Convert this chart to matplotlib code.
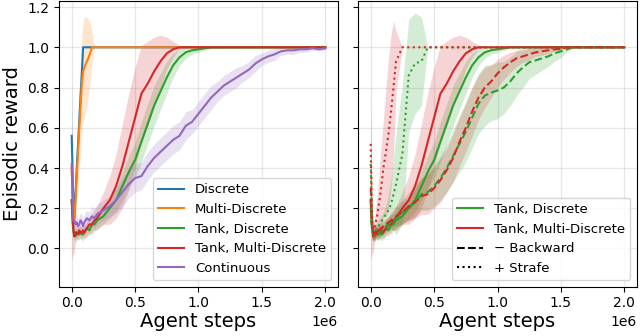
import matplotlib
matplotlib.use("Agg")
import matplotlib.pyplot as plt
from matplotlib.lines import Line2D
import numpy as np

# ---------------- data (x in units of 1e6 agent steps) ----------------
STEPS = [0.00, 0.01, 0.02, 0.03, 0.04, 0.05, 0.06, 0.07, 0.08, 0.09,
         0.10, 0.12, 0.14, 0.16, 0.18, 0.20, 0.25, 0.30, 0.35, 0.40,
         0.45, 0.50, 0.55, 0.60, 0.65, 0.70, 0.75, 0.80, 0.85, 0.90,
         0.95, 1.00, 1.05, 1.10, 1.15, 1.20, 1.25, 1.30, 1.35, 1.40,
         1.45, 1.50, 1.55, 1.60, 1.65, 1.70, 1.75, 1.80, 1.85, 1.90,
         1.95, 2.00]

discrete_mean = [0.56, 0.30, 0.15, 0.27, 0.40, 0.52, 0.64, 0.76, 0.87, 1.00] + [1.00] * 42
discrete_std = [0.30, 0.12, 0.06, 0.06, 0.06, 0.06, 0.05, 0.05, 0.04, 0.00] + [0.00] * 42

multi_mean = [0.40, 0.22, 0.14, 0.24, 0.36, 0.48, 0.60, 0.71, 0.82, 0.88,
              0.90, 0.93, 0.96, 1.00] + [1.00] * 38
multi_std = [0.15, 0.06, 0.05, 0.10, 0.14, 0.18, 0.21, 0.23, 0.24, 0.25,
             0.25, 0.22, 0.17, 0.08] + [0.00] * 38

tank_d_mean = [0.24, 0.10, 0.07, 0.06, 0.07, 0.08, 0.07, 0.08, 0.07, 0.07,
               0.08, 0.10, 0.09, 0.12, 0.12, 0.14, 0.16, 0.20, 0.24, 0.31,
               0.38, 0.44, 0.53, 0.62, 0.71, 0.78, 0.85, 0.91, 0.95, 0.975,
               0.985, 0.99, 0.995] + [1.00] * 19
tank_d_std = [0.15, 0.05, 0.03, 0.03, 0.03, 0.03, 0.03, 0.03, 0.03, 0.03,
              0.03, 0.03, 0.03, 0.03, 0.03, 0.04, 0.04, 0.05, 0.06, 0.07,
              0.08, 0.09, 0.10, 0.10, 0.10, 0.09, 0.08, 0.06, 0.04, 0.03,
              0.02, 0.015, 0.01, 0.005, 0.005] + [0.00] * 17

tank_md_mean = [0.24, 0.12, 0.06, 0.08, 0.08, 0.07, 0.09, 0.08, 0.08, 0.09,
                0.08, 0.10, 0.12, 0.12, 0.14, 0.15, 0.20, 0.24, 0.31, 0.41,
                0.53, 0.65, 0.77, 0.82, 0.88, 0.93, 0.97, 0.99] + [1.00] * 24
tank_md_std = [0.30, 0.15, 0.08, 0.04, 0.03, 0.03, 0.03, 0.03, 0.03, 0.03,
               0.03, 0.04, 0.04, 0.05, 0.05, 0.06, 0.08, 0.12, 0.16, 0.21,
               0.24, 0.25, 0.24, 0.21, 0.17, 0.13, 0.08, 0.04, 0.01] + [0.00] * 23

cont_mean = [0.42, 0.14, 0.14, 0.12, 0.13, 0.11, 0.12, 0.14, 0.13, 0.11,
             0.13, 0.15, 0.14, 0.16, 0.15, 0.17, 0.19, 0.21, 0.24, 0.28,
             0.32, 0.35, 0.36, 0.41, 0.45, 0.48, 0.51, 0.54, 0.56, 0.61,
             0.63, 0.67, 0.71, 0.75, 0.78, 0.81, 0.83, 0.85, 0.87, 0.89,
             0.92, 0.94, 0.955, 0.965, 0.98, 0.985, 0.985, 0.99, 0.99, 0.995,
             0.99, 0.995]
cont_std = [0.10, 0.05, 0.04, 0.04, 0.04, 0.04, 0.04, 0.04, 0.04, 0.04,
            0.04, 0.04, 0.04, 0.05, 0.05, 0.05, 0.05, 0.05, 0.06, 0.07,
            0.07, 0.07, 0.07, 0.07, 0.07, 0.07, 0.07, 0.07, 0.07, 0.07,
            0.06, 0.06, 0.06, 0.06, 0.05, 0.05, 0.05, 0.05, 0.04, 0.04,
            0.04, 0.03, 0.03, 0.03, 0.02, 0.02, 0.02, 0.015, 0.015, 0.01,
            0.01, 0.01]

tank_d_back_mean = [0.20, 0.10, 0.07, 0.07, 0.08, 0.08, 0.07, 0.08, 0.09, 0.09,
                    0.10, 0.11, 0.12, 0.13, 0.13, 0.15, 0.18, 0.20, 0.23, 0.27,
                    0.28, 0.31, 0.35, 0.40, 0.46, 0.52, 0.58, 0.65, 0.72, 0.76,
                    0.775, 0.785, 0.80, 0.83, 0.87, 0.90, 0.925, 0.935, 0.945, 0.955,
                    0.97, 0.98, 0.99] + [1.00] * 9
tank_d_back_std = [0.10, 0.04, 0.03, 0.03, 0.03, 0.03, 0.03, 0.03, 0.03, 0.03,
                   0.03, 0.03, 0.03, 0.04, 0.04, 0.04, 0.05, 0.06, 0.07, 0.08,
                   0.09, 0.10, 0.11, 0.12, 0.13, 0.14, 0.15, 0.15, 0.15, 0.15,
                   0.14, 0.14, 0.13, 0.12, 0.11, 0.10, 0.08, 0.07, 0.06, 0.05,
                   0.04, 0.03, 0.01] + [0.00] * 9

tank_md_back_mean = [0.30, 0.12, 0.08, 0.07, 0.08, 0.09, 0.08, 0.09, 0.10, 0.10,
                     0.11, 0.12, 0.13, 0.14, 0.15, 0.16, 0.18, 0.21, 0.23, 0.26,
                     0.27, 0.30, 0.34, 0.39, 0.45, 0.53, 0.60, 0.68, 0.75, 0.80,
                     0.83, 0.87, 0.90, 0.925, 0.945, 0.955, 0.965, 0.975, 0.98, 0.985,
                     0.99, 0.992] + [1.00] * 10
tank_md_back_std = [0.20, 0.08, 0.04, 0.03, 0.03, 0.03, 0.03, 0.03, 0.03, 0.03,
                    0.03, 0.03, 0.03, 0.04, 0.04, 0.05, 0.06, 0.07, 0.08, 0.09,
                    0.10, 0.10, 0.11, 0.11, 0.12, 0.12, 0.12, 0.12, 0.11, 0.10,
                    0.08, 0.07, 0.06, 0.05, 0.04, 0.03, 0.03, 0.02, 0.02, 0.015,
                    0.01, 0.005] + [0.00] * 10

tank_d_strafe_mean = [0.42, 0.12, 0.08, 0.08, 0.09, 0.10, 0.11, 0.12, 0.13, 0.14,
                      0.15, 0.17, 0.19, 0.22, 0.27, 0.32, 0.47, 0.86, 0.92, 0.93] + [1.00] * 32
tank_d_strafe_std = [0.25, 0.05, 0.03, 0.03, 0.03, 0.03, 0.03, 0.03, 0.03, 0.03,
                     0.03, 0.05, 0.08, 0.12, 0.18, 0.25, 0.35, 0.28, 0.25, 0.22] + [0.00] * 32

tank_md_strafe_mean = [0.52, 0.15, 0.08, 0.10, 0.13, 0.16, 0.20, 0.24, 0.29, 0.34,
                       0.40, 0.48, 0.57, 0.68, 0.80, 0.93] + [1.00] * 36
tank_md_strafe_std = [0.33, 0.10, 0.04, 0.05, 0.07, 0.10, 0.13, 0.17, 0.20, 0.22,
                      0.24, 0.32, 0.37, 0.38, 0.33, 0.15] + [0.00] * 36

LEFT_LABELS = ["Discrete", "Multi-Discrete", "Tank, Discrete", "Tank, Multi-Discrete", "Continuous"]
RIGHT_LABELS = ["Tank, Discrete", "Tank, Multi-Discrete", "\u2212 Backward", "+ Strafe"]
X_LABEL = "Agent steps"
Y_LABEL = "Episodic reward"

C_BLUE, C_ORANGE, C_GREEN, C_RED, C_PURPLE = "#1f77b4", "#ff7f0e", "#2ca02c", "#d62728", "#9467bd"

# ---------------- figure ----------------
fig = plt.figure(figsize=(6.4, 3.36), dpi=100)
ax1 = fig.add_axes([0.0922, 0.1467, 0.4359, 0.8503])
ax2 = fig.add_axes([0.5594, 0.1467, 0.4359, 0.8503], sharey=ax1)

x = np.array(STEPS) * 1e6


def curve(ax, mean, std, color, ls="-", label=None):
    m = np.array(mean)
    s = np.array(std)
    ax.fill_between(x, m - s, m + s, color=color, alpha=0.2, linewidth=0)
    ax.plot(x, m, color=color, lw=1.5, ls=ls, label=label)


curve(ax1, discrete_mean, discrete_std, C_BLUE, label=LEFT_LABELS[0])
curve(ax1, multi_mean, multi_std, C_ORANGE, label=LEFT_LABELS[1])
curve(ax1, tank_d_mean, tank_d_std, C_GREEN, label=LEFT_LABELS[2])
curve(ax1, tank_md_mean, tank_md_std, C_RED, label=LEFT_LABELS[3])
curve(ax1, cont_mean, cont_std, C_PURPLE, label=LEFT_LABELS[4])

curve(ax2, tank_d_mean, tank_d_std, C_GREEN)
curve(ax2, tank_md_mean, tank_md_std, C_RED)
curve(ax2, tank_d_back_mean, tank_d_back_std, C_GREEN, ls="--")
curve(ax2, tank_md_back_mean, tank_md_back_std, C_RED, ls="--")
curve(ax2, tank_d_strafe_mean, tank_d_strafe_std, C_GREEN, ls=":")
curve(ax2, tank_md_strafe_mean, tank_md_strafe_std, C_RED, ls=":")

for ax in (ax1, ax2):
    ax.set_xlim(-0.1e6, 2.1e6)
    ax.set_ylim(-0.19, 1.23)
    ax.set_xticks([0, 0.5e6, 1.0e6, 1.5e6, 2.0e6])
    ax.set_yticks([0.0, 0.2, 0.4, 0.6, 0.8, 1.0, 1.2])
    ax.grid(True, color="#b0b0b0", alpha=0.3, linewidth=0.9)
    ax.set_axisbelow(True)
    ax.tick_params(labelsize=10)
    ax.xaxis.get_offset_text().set_fontsize(10)
    ax.set_xlabel(X_LABEL, fontsize=14, labelpad=1)

ax1.set_ylabel(Y_LABEL, fontsize=14)
plt.setp(ax2.get_yticklabels(), visible=False)

ax1.legend(loc="lower right", fontsize=9.5)
handles = [Line2D([], [], color=C_GREEN, lw=1.5),
           Line2D([], [], color=C_RED, lw=1.5),
           Line2D([], [], color="black", lw=1.5, ls="--"),
           Line2D([], [], color="black", lw=1.5, ls=":")]
ax2.legend(handles, RIGHT_LABELS, loc="lower right", fontsize=9.5)

fig.savefig("out.png", dpi=100)
